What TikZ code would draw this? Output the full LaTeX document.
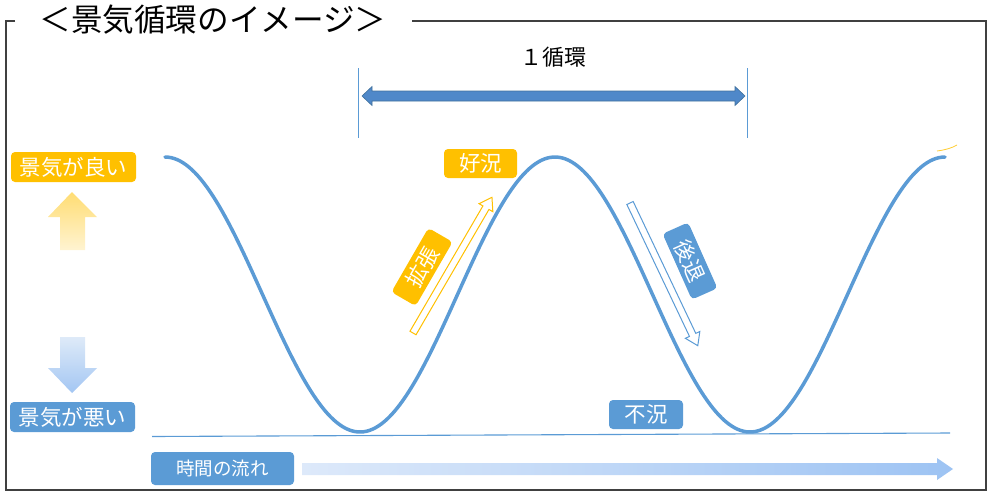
\documentclass[tikz,border=0pt]{standalone}
\usepackage{fontspec}
\newfontfamily\jp{Noto Sans CJK JP}
\definecolor{wblue}{HTML}{5B9BD5}
\definecolor{dblue}{HTML}{4F88C9}
\definecolor{eblue}{HTML}{41719C}
\definecolor{orng}{HTML}{FFC000}
\definecolor{frm}{HTML}{404040}
\begin{document}
\begin{tikzpicture}[x=1pt,y=-1pt,
  lbl/.style={rounded corners=4pt, inner sep=0pt, text=white, font=\jp\fontsize{21.5}{21.5}\selectfont},
  olbl/.style={lbl, fill=orng},
  blbl/.style={lbl, fill=wblue},
  framestyle/.style={draw=frm, line width=1.2pt},
  hollow/.style={fill=white, line width=1pt}]
\useasboundingbox (0,0) rectangle (990,493);
% frame
\draw[framestyle] (15,21) -- (6,21) -- (6,490) -- (986,490) -- (986,21) -- (412,21);
% title
\node[anchor=west, font=\jp\fontsize{31.6}{31.6}\selectfont] (title) at (36,20) {＜景気循環のイメージ＞};
% one cycle
\node[font=\jp\fontsize{22}{22}\selectfont] (cyc) at (553,57) {１循環};
\coordinate (cl) at (358,68);
\coordinate (cr) at (747,68);
\draw[wblue, line width=0.9pt] (cl) -- ++(0,70);
\draw[wblue, line width=0.9pt] (cr) -- ++(0,70);
\draw[fill=dblue, draw=eblue, line width=0.6pt]
  (362,96) -- (372,86.5) -- (372,91) -- (735,91) -- (735,86.5) -- (745,96)
  -- (735,105.5) -- (735,101) -- (372,101) -- (372,105.5) -- cycle;
% baseline
\draw[wblue, line width=1.1pt] (152,436.5) -- (950,433);
% wave
\draw[wblue, line width=3.5pt, line cap=round, line join=round]
  plot[domain=165:945, samples=260] (\x, {294.5-137.5*cos(0.9230769*(\x-165))});
\draw[orng!80, line width=0.8pt] (937,151) .. controls (945,150) and (952,148) .. (957,145);
% left labels and arrows
\node[olbl, minimum width=125pt, minimum height=30pt] (good) at (73.5,167) {景気が良い};
\node[blbl, minimum width=125pt, minimum height=30pt] (bad) at (72.5,417) {景気が悪い};
\shade[top color=orng!55, bottom color=orng!18]
  (72,192) -- (97,217) -- (85,217) -- (85,250) -- (60,250) -- (60,217) -- (48,217) -- cycle;
\shade[top color={rgb,255:red,222;green,234;blue,248}, bottom color={rgb,255:red,163;green,198;blue,243}]
  (60,337) -- (85,337) -- (85,368) -- (97,368) -- (72,393) -- (48,368) -- (60,368) -- cycle;
% state labels
\node[olbl, minimum width=73pt, minimum height=29pt] (boom) at (480.5,163.5) {好況};
\node[blbl, minimum width=74pt, minimum height=29pt] (slump) at (646,414.5) {不況};
\node[olbl, minimum width=74pt, minimum height=28pt, rotate=60] (exp) at (422,267) {拡張};
\node[blbl, minimum width=72pt, minimum height=28pt, rotate=-66] (rec) at (690,261) {後退};
% hollow arrows
\begin{scope}[shift={(413,333)}, rotate=59.8]
  \draw[hollow, draw=orng] (0,-3.5) -- (145,-3.5) -- (145,-8) -- (157,0) -- (145,8) -- (145,3.5) -- (0,3.5) -- cycle;
\end{scope}
\begin{scope}[shift={(630,203)}, rotate=-64.6]
  \draw[hollow, draw=wblue] (0,-3.5) -- (146,-3.5) -- (146,-8) -- (158,0) -- (146,8) -- (146,3.5) -- (0,3.5) -- cycle;
\end{scope}
% time
\node[lbl, fill=wblue, minimum width=143pt, minimum height=33pt, font=\jp\fontsize{18.5}{18.5}\selectfont] (time) at (222.5,468.5) {時間の流れ};
\shade[left color={rgb,255:red,221;green,233;blue,250}, right color={rgb,255:red,157;green,195;blue,243}]
  (302,463) -- (937,463) -- (937,458) -- (953,469) -- (937,480) -- (937,475) -- (302,475) -- cycle;
\end{tikzpicture}
\end{document}
